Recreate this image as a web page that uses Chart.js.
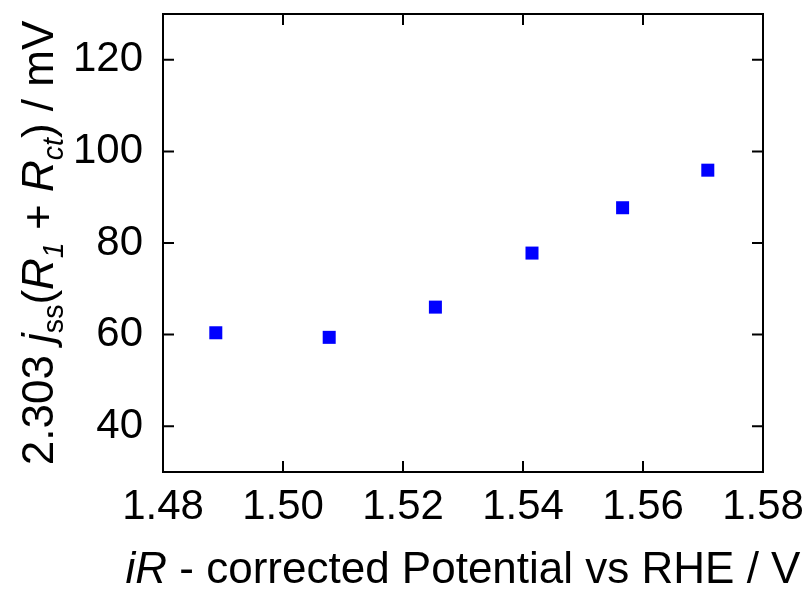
<!DOCTYPE html>
<html>
<head>
<meta charset="utf-8">
<script src="https://cdn.jsdelivr.net/npm/chart.js@4/dist/chart.umd.min.js"></script>
<style>
  html, body { margin: 0; padding: 0; background: #fff; }
  canvas { display: block; }
</style>
</head>
<body>
<canvas id="chart" width="812" height="593"></canvas>
<script>
// values
const potentials = [1.4888, 1.5077, 1.5254, 1.5415, 1.5566, 1.5708];
const values = [60.4, 59.4, 66.0, 77.8, 87.7, 95.9];

const xRange = [1.48, 1.58];
const yRange = [30, 130];

const FONT = '"Liberation Sans", Arial, sans-serif';

// titles are drawn by hand because they mix italic and subscripts
const yTitle = [
  { t: '2.303 ' },
  { t: 'j', it: true },
  { t: 'ss', sub: true },
  { t: '(' },
  { t: 'R', it: true },
  { t: '1', it: true, sub: true },
  { t: ' + ' },
  { t: 'R', it: true },
  { t: 'ct', it: true, sub: true },
  { t: ') / mV' }
];
const xTitle = [
  { t: 'iR', it: true },
  { t: ' - corrected Potential vs RHE / V' }
];

function segFont(s, size) {
  const sz = s.sub ? size * 0.65 : size;
  return (s.it ? 'italic ' : '') + sz + 'px ' + FONT;
}

function drawRich(ctx, segs, size) {
  // centred on the origin, baseline at y = 0
  let total = 0;
  segs.forEach(s => { ctx.font = segFont(s, size); s.w = ctx.measureText(s.t).width; total += s.w; });
  let x = -total / 2;
  ctx.textBaseline = 'alphabetic';
  ctx.textAlign = 'left';
  segs.forEach(s => {
    ctx.font = segFont(s, size);
    ctx.fillText(s.t, x, s.sub ? size * 0.22 : 0);
    x += s.w;
  });
}

const framePlugin = {
  id: 'frame',
  afterDraw(chart) {
    const ctx = chart.ctx;
    const a = chart.chartArea;
    const xs = chart.scales.x, ys = chart.scales.y;
    ctx.save();
    ctx.strokeStyle = '#000';
    ctx.lineWidth = 2;
    ctx.strokeRect(a.left, a.top, a.right - a.left, a.bottom - a.top);

    // inward ticks on all four sides
    ctx.beginPath();
    xs.ticks.forEach(t => {
      const px = xs.getPixelForValue(t.value);
      const len = t.label ? 11 : 6;
      ctx.moveTo(px, a.bottom); ctx.lineTo(px, a.bottom - len);
      ctx.moveTo(px, a.top); ctx.lineTo(px, a.top + len);
    });
    ys.ticks.forEach(t => {
      const py = ys.getPixelForValue(t.value);
      const len = t.label ? 11 : 6;
      ctx.moveTo(a.left, py); ctx.lineTo(a.left + len, py);
      ctx.moveTo(a.right, py); ctx.lineTo(a.right - len, py);
    });
    ctx.stroke();

    ctx.fillStyle = '#000';
    ctx.save();
    ctx.translate((a.left + a.right) / 2, 583);
    drawRich(ctx, xTitle, 44);
    ctx.restore();

    ctx.save();
    ctx.translate(53, (a.top + a.bottom) / 2);
    ctx.rotate(-Math.PI / 2);
    drawRich(ctx, yTitle, 44);
    ctx.restore();
    ctx.restore();
  }
};

function noPad(s) {
  s.paddingTop = 0; s.paddingBottom = 0; s.paddingLeft = 0; s.paddingRight = 0;
}

new Chart(document.getElementById('chart'), {
  type: 'scatter',
  data: {
    datasets: [{
      data: potentials.map((p, i) => ({ x: p, y: values[i] })),
      pointStyle: 'rect',
      pointRadius: 9.2,
      pointHoverRadius: 9.2,
      backgroundColor: '#0000ff',
      borderWidth: 0
    }]
  },
  options: {
    responsive: false,
    animation: false,
    layout: { padding: { top: 14, right: 49, left: 0, bottom: 0 } },
    plugins: { legend: { display: false }, tooltip: { enabled: false } },
    scales: {
      x: {
        type: 'linear',
        min: xRange[0],
        max: xRange[1],
        grid: { display: false, drawTicks: false },
        border: { display: false },
        afterFit: s => { s.height = 121; noPad(s); },
        ticks: {
          stepSize: 0.01,
          autoSkip: false,
          maxRotation: 0,
          padding: 10,
          color: '#000',
          font: { size: 42, family: FONT },
          callback: v => Math.round(v * 100) % 2 === 0 ? v.toFixed(2) : null
        }
      },
      y: {
        min: yRange[0],
        max: yRange[1],
        grid: { display: false, drawTicks: false },
        border: { display: false },
        afterFit: s => { s.width = 163; noPad(s); },
        ticks: {
          stepSize: 10,
          autoSkip: false,
          padding: 20,
          color: '#000',
          font: { size: 42, family: FONT },
          callback: v => (Math.round(v) % 20 === 0) ? String(Math.round(v)) : null
        }
      }
    }
  },
  plugins: [framePlugin]
});
</script>
</body>
</html>
